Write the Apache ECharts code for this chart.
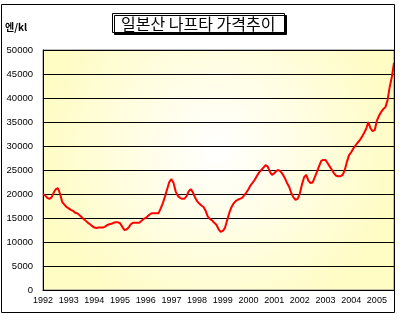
<!DOCTYPE html>
<html>
<head>
<meta charset="utf-8">
<script src="https://cdn.jsdelivr.net/npm/echarts@6/dist/echarts.min.js"></script>
<style>html,body{margin:0;padding:0;background:#fff;}#c{width:404px;height:320px;}</style>
</head>
<body>
<div id="c"></div>
<script>
// Tick labels (years) for the category axis
const years = ['1992','1993','1994','1995','1996','1997','1998','1999','2000','2001','2002','2003','2004','2005'];
// Monthly naphtha prices (yen/kl)
const p1992 = [20000,19700,19200,19000,19300,20300,21000,21200,20000,18300,17800,17300];
const p1993 = [17000,16700,16500,16100,16000,15600,15200,14800,14400,14000,13700,13300];
const p1994 = [13000,12900,13000,13000,13000,13200,13500,13700,13800,14000,14100,14100];
const p1995 = [13900,13200,12500,12600,13000,13700,14000,14000,14000,14000,14400,14800];
const p1996 = [15000,15400,15800,16000,16000,16000,16000,17000,18100,19500,21000,22500];
const p1997 = [23100,22300,20500,19600,19200,19000,19000,19500,20500,21000,20400,19300];
const p1998 = [18500,18000,17600,17300,16500,15300,14800,14500,14000,13600,12700,12100];
const p1999 = [12300,12900,14500,16000,17200,18000,18500,18800,19000,19200,19700,20300];
const p2000 = [21000,21800,22400,23000,23800,24500,25000,25500,26000,25700,24600,24000];
const p2001 = [24300,24800,25000,24700,24100,23300,22300,21500,20200,19300,18800,19000];
const p2002 = [20100,22000,23500,24000,22800,22300,22400,23500,24600,25800,26900,27100];
const p2003 = [27100,26400,25700,25000,24300,23800,23700,23700,24000,25000,26700,28100];
const p2004 = [28700,29500,30100,30700,31200,31900,32700,33600,35000,33700,33100,33300];
const p2005 = [35300,36300,37100,37700,38100,39600,42300,44400,47300];

const yearly = [p1992,p1993,p1994,p1995,p1996,p1997,p1998,p1999,p2000,p2001,p2002,p2003,p2004,p2005];
const categories = [];
const prices = [];
yearly.forEach((arr, i) => {
  arr.forEach((v, m) => {
    categories.push(years[i] + '-' + String(m + 1).padStart(2, '0'));
    prices.push(v);
  });
});

const chart = echarts.init(document.getElementById('c'), null, {renderer: 'canvas'});
chart.setOption({
  animation: false,
  backgroundColor: '#fff',
  title: {
    text: '일본산 나프타 가격추이',
    left: 112,
    top: 13,
    padding: [2, 9, 1, 9],
    backgroundColor: '#fff',
    borderColor: '#000',
    borderWidth: 1,
    shadowColor: '#000',
    shadowOffsetX: 2,
    shadowOffsetY: 2,
    shadowBlur: 0,
    textStyle: {
      fontFamily: '"Noto Sans CJK KR", sans-serif',
      fontSize: 16,
      fontWeight: 'normal',
      color: '#000',
      lineHeight: 17
    }
  },
  graphic: [
    {
      type: 'rect',
      shape: {x: 1.5, y: 4.5, width: 393, height: 308},
      style: {fill: 'none', stroke: '#000', lineWidth: 1},
      z: 100
    },
    {
      type: 'text',
      left: 5,
      top: 22,
      style: {
        text: '엔/kl',
        fontFamily: '"Noto Sans CJK KR", sans-serif',
        fontSize: 10,
        fontWeight: 'bold',
        fill: '#000'
      }
    }
  ],
  grid: {
    left: 43,
    right: 10,
    top: 50,
    bottom: 30,
    show: true,
    borderColor: '#808080',
    borderWidth: 1,
    backgroundColor: new echarts.graphic.RadialGradient(0.5, 0.42, 0.75, [
      {offset: 0, color: '#ffffff'},
      {offset: 1, color: '#fffcc4'}
    ])
  },
  xAxis: {
    type: 'category',
    data: categories,
    boundaryGap: false,
    axisLine: {lineStyle: {color: '#000', width: 1}},
    axisTick: {show: false},
    axisLabel: {
      interval: 11,
      formatter: v => v.slice(0, 4),
      fontFamily: '"Liberation Sans", Arial, sans-serif',
      fontSize: 9,
      color: '#000',
      margin: 6
    },
    splitLine: {show: false}
  },
  yAxis: {
    type: 'value',
    min: 0,
    max: 50000,
    interval: 5000,
    axisLine: {show: true, lineStyle: {color: '#000', width: 1}},
    axisTick: {show: false},
    axisLabel: {
      formatter: v => String(v),
      fontFamily: '"Liberation Sans", Arial, sans-serif',
      fontSize: 9.5,
      color: '#000',
      margin: 10
    },
    splitLine: {lineStyle: {color: '#000', width: 1}}
  },
  series: [{
    type: 'line',
    data: prices,
    symbol: 'none',
    smooth: false,
    lineStyle: {color: '#ff0000', width: 2},
    itemStyle: {color: '#ff0000'}
  }]
});
</script>
</body>
</html>
